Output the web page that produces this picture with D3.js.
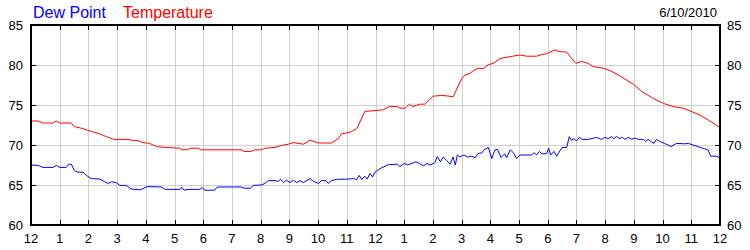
<!DOCTYPE html>
<html>
<head>
<meta charset="utf-8">
<script src="https://cdn.jsdelivr.net/npm/d3@7"></script>
<style>
    body { margin: 0; background: #fff; }
    text { font-family: "Liberation Sans", Arial, sans-serif; }
    .grid line { stroke: #d0d0d0; stroke-width: 1; shape-rendering: crispEdges; }
    .tick-mark { stroke: #000; stroke-width: 1; shape-rendering: crispEdges; }
    .line { fill: none; stroke-width: 1; }
</style>
</head>
<body>
<div id="chart"></div>
<script>
// hours since midnight
var tempTimes = [0, 0.25, 0.42, 0.77, 0.88, 1.0, 1.4, 1.52, 1.75, 2.1, 2.39, 2.62, 2.89, 3.38, 3.5, 3.73, 3.9, 4.13, 4.37, 4.66,
    5.18, 5.26, 5.45, 5.56, 5.82, 5.91, 7.33, 7.42, 7.67, 7.79, 8.02, 8.16, 8.5, 8.73, 8.96, 9.14, 9.49, 9.72, 10.01, 10.47,
    10.7, 10.82, 11.11, 11.35, 11.63, 11.98, 12.27, 12.48, 12.76, 12.85, 13.03, 13.18, 13.3, 13.53, 13.72, 14.01, 14.31, 14.71, 15.0, 15.12,
    15.29, 15.41, 15.58, 15.76, 15.93, 16.1, 16.34, 16.69, 17.03, 17.27, 17.61, 17.79, 17.96, 18.25, 18.37, 18.66, 18.98, 19.18, 19.41, 19.59,
    19.94, 20.17, 20.46, 20.75, 20.98, 21.27, 21.68, 22.03, 22.37, 22.72, 22.96, 23.3, 23.65, 24.0];
var tempValues = [73.0, 73.0, 72.75, 72.75, 73.0, 72.75, 72.75, 72.3, 72.1, 71.7, 71.4, 71.05, 70.7, 70.7, 70.6, 70.55, 70.3, 70.2, 69.8, 69.7,
    69.6, 69.4, 69.4, 69.6, 69.6, 69.4, 69.4, 69.2, 69.2, 69.4, 69.4, 69.6, 69.7, 69.95, 70.1, 70.3, 70.1, 70.6, 70.25, 70.25,
    70.8, 71.4, 71.6, 72.05, 74.2, 74.3, 74.4, 74.8, 74.8, 74.6, 74.6, 75.1, 74.8, 75.1, 75.1, 76.1, 76.2, 76.05, 78.3, 78.75,
    78.95, 79.3, 79.6, 79.55, 80.05, 80.2, 80.8, 81.05, 81.25, 81.1, 81.1, 81.3, 81.4, 81.9, 81.7, 81.6, 80.2, 80.45, 80.2, 79.8,
    79.6, 79.3, 78.75, 78.1, 77.6, 76.7, 75.8, 75.2, 74.8, 74.6, 74.25, 73.75, 73.0, 72.2];

var dewTimes = [0, 0.25, 0.42, 0.77, 0.88, 1.0, 1.23, 1.31, 1.4, 1.52, 1.64, 1.81, 1.93, 2.1, 2.39, 2.57, 2.68, 2.8, 2.97, 3.09,
    3.32, 3.49, 3.79, 3.9, 4.05, 4.54, 4.68, 5.18, 5.26, 5.33, 5.47, 5.88, 5.97, 6.05, 6.4, 6.49, 7.33, 7.42, 7.65, 7.74,
    8.02, 8.15, 8.27, 8.5, 8.61, 8.7, 8.8, 8.9, 9.02, 9.14, 9.26, 9.37, 9.49, 9.72, 9.84, 10.01, 10.12, 10.27, 10.35, 10.47,
    10.64, 11.11, 11.23, 11.35, 11.43, 11.52, 11.63, 11.71, 11.81, 11.9, 11.98, 12.16, 12.45, 12.76, 12.85, 13.0, 13.12, 13.41, 13.53, 13.67,
    13.8, 13.9, 14.07, 14.15, 14.26, 14.36, 14.47, 14.6, 14.7, 14.78, 14.85, 14.94, 15.08, 15.2, 15.35, 15.47, 15.58, 15.7, 15.78, 15.93,
    16.05, 16.16, 16.25, 16.37, 16.5, 16.57, 16.69, 16.8, 16.92, 17.03, 17.44, 17.52, 17.61, 17.71, 17.79, 17.96, 18.03, 18.1, 18.22, 18.31,
    18.43, 18.5, 18.66, 18.75, 18.83, 18.91, 19.0, 19.11, 19.2, 19.41, 19.7, 19.87, 19.99, 20.12, 20.22, 20.31, 20.4, 20.48, 20.6, 20.69,
    20.8, 20.92, 21.06, 21.15, 21.33, 21.41, 21.5, 21.61, 21.7, 21.78, 21.9, 22.07, 22.3, 22.48, 22.77, 22.9, 23.06, 23.23, 23.4, 23.58,
    23.68, 23.9, 24.0];
var dewValues = [67.5, 67.45, 67.2, 67.2, 67.45, 67.2, 67.2, 67.6, 67.6, 66.8, 66.6, 66.6, 66.2, 65.8, 65.75, 65.4, 65.2, 65.4, 65.3, 64.95,
    64.95, 64.5, 64.4, 64.55, 64.8, 64.75, 64.45, 64.45, 64.7, 64.35, 64.45, 64.45, 64.7, 64.35, 64.35, 64.75, 64.75, 64.6, 64.6, 64.95,
    65.0, 65.2, 65.55, 65.55, 65.45, 65.7, 65.3, 65.6, 65.3, 65.6, 65.3, 65.55, 65.3, 65.8, 65.45, 65.2, 65.55, 65.55, 65.2, 65.55,
    65.7, 65.75, 65.8, 65.7, 66.2, 65.7, 66.1, 65.75, 66.45, 66.0, 66.6, 67.05, 67.55, 67.6, 67.3, 67.7, 67.5, 67.9, 67.7, 67.4,
    67.7, 67.5, 67.8, 68.55, 67.9, 68.5, 68.1, 67.6, 68.5, 67.5, 68.75, 68.5, 68.75, 68.5, 68.6, 68.4, 68.95, 69.0, 69.4, 69.7,
    68.3, 69.4, 69.45, 68.45, 68.9, 68.4, 69.4, 69.05, 68.3, 68.75, 68.75, 69.05, 68.75, 69.2, 68.9, 68.9, 69.6, 68.75, 69.2, 68.6,
    69.3, 69.7, 69.7, 71.05, 70.6, 70.8, 70.5, 70.95, 70.7, 70.7, 70.95, 70.7, 70.95, 70.8, 71.05, 70.8, 71.1, 70.8, 70.95, 70.7,
    70.95, 70.75, 70.85, 70.7, 70.7, 70.45, 70.7, 70.4, 70.2, 70.7, 70.45, 70.2, 69.8, 70.2, 70.15, 70.2, 70.0, 69.8, 69.6, 69.4,
    68.6, 68.6, 68.3];

var hourLabels = ["12", "1", "2", "3", "4", "5", "6", "7", "8", "9", "10", "11",
    "12", "1", "2", "3", "4", "5", "6", "7", "8", "9", "10", "11", "12"];
var yTicks = [60, 65, 70, 75, 80, 85];
var dateLabel = "6/10/2010";

var width = 750, height = 250;
var plot = {left: 31, right: 720, top: 25, bottom: 225};

var svg = d3.select("#chart").append("svg")
    .attr("width", width)
    .attr("height", height);

// scales
var x = d3.scaleLinear().domain([0, 24]).range([plot.left, plot.right]);
var y = d3.scaleLinear().domain([60, 85]).range([plot.bottom, plot.top]);

var hours = d3.range(0, 25);

// gridlines
var grid = svg.append("g").attr("class", "grid");
grid.selectAll(".v").data(hours.slice(1, -1)).enter().append("line")
    .attr("x1", function(d) { return Math.round(x(d)) + 0.5; })
    .attr("x2", function(d) { return Math.round(x(d)) + 0.5; })
    .attr("y1", plot.top).attr("y2", plot.bottom);
grid.selectAll(".h").data(yTicks.slice(1, -1)).enter().append("line")
    .attr("x1", plot.left).attr("x2", plot.right)
    .attr("y1", function(d) { return y(d) + 0.5; })
    .attr("y2", function(d) { return y(d) + 0.5; });

// inward tick marks on all four sides
var ticks = svg.append("g");
hours.forEach(function(d) {
    var xx = Math.round(x(d)) + 0.5;
    ticks.append("line").attr("class", "tick-mark")
        .attr("x1", xx).attr("x2", xx).attr("y1", plot.top).attr("y2", plot.top + 5);
    ticks.append("line").attr("class", "tick-mark")
        .attr("x1", xx).attr("x2", xx).attr("y1", plot.bottom - 5).attr("y2", plot.bottom);
});
yTicks.forEach(function(d) {
    ticks.append("line").attr("class", "tick-mark")
        .attr("x1", plot.left).attr("x2", plot.left + 5).attr("y1", y(d) + 0.5).attr("y2", y(d) + 0.5);
    ticks.append("line").attr("class", "tick-mark")
        .attr("x1", plot.right - 5).attr("x2", plot.right).attr("y1", y(d) + 0.5).attr("y2", y(d) + 0.5);
});

// data lines
var valueline = d3.line()
    .x(function(d) { return x(d[0]); })
    .y(function(d) { return y(d[1]); });

svg.append("path")
    .attr("class", "line")
    .attr("stroke", "#ff0000")
    .attr("d", valueline(d3.zip(tempTimes, tempValues)));

svg.append("path")
    .attr("class", "line")
    .attr("stroke", "#0000ff")
    .attr("d", valueline(d3.zip(dewTimes, dewValues)));

// frame
svg.append("rect")
    .attr("x", plot.left).attr("y", plot.top)
    .attr("width", plot.right - plot.left).attr("height", plot.bottom - plot.top)
    .attr("fill", "none").attr("stroke", "#000").attr("stroke-width", 2);

// axis labels
svg.selectAll(".xlab").data(hours).enter().append("text")
    .attr("x", function(d) { return x(d); })
    .attr("y", 243)
    .attr("text-anchor", "middle")
    .style("font-size", "13px")
    .text(function(d) { return hourLabels[d]; });

svg.selectAll(".ylabl").data(yTicks).enter().append("text")
    .attr("x", 23)
    .attr("y", function(d) { return y(d); })
    .attr("dy", "0.36em")
    .attr("text-anchor", "end")
    .style("font-size", "13px")
    .text(function(d) { return d; });

svg.selectAll(".ylabr").data(yTicks).enter().append("text")
    .attr("x", 727)
    .attr("y", function(d) { return y(d); })
    .attr("dy", "0.36em")
    .style("font-size", "13px")
    .text(function(d) { return d; });

// legend and date
svg.append("text").attr("x", 33).attr("y", 18)
    .style("font-size", "16px").attr("fill", "#0000ff").text("Dew Point");
svg.append("text").attr("x", 123).attr("y", 18)
    .style("font-size", "16px").attr("fill", "#ff0000").text("Temperature");
svg.append("text").attr("x", 717).attr("y", 17)
    .attr("text-anchor", "end")
    .style("font-size", "13px").text(dateLabel);
</script>
</body>
</html>
